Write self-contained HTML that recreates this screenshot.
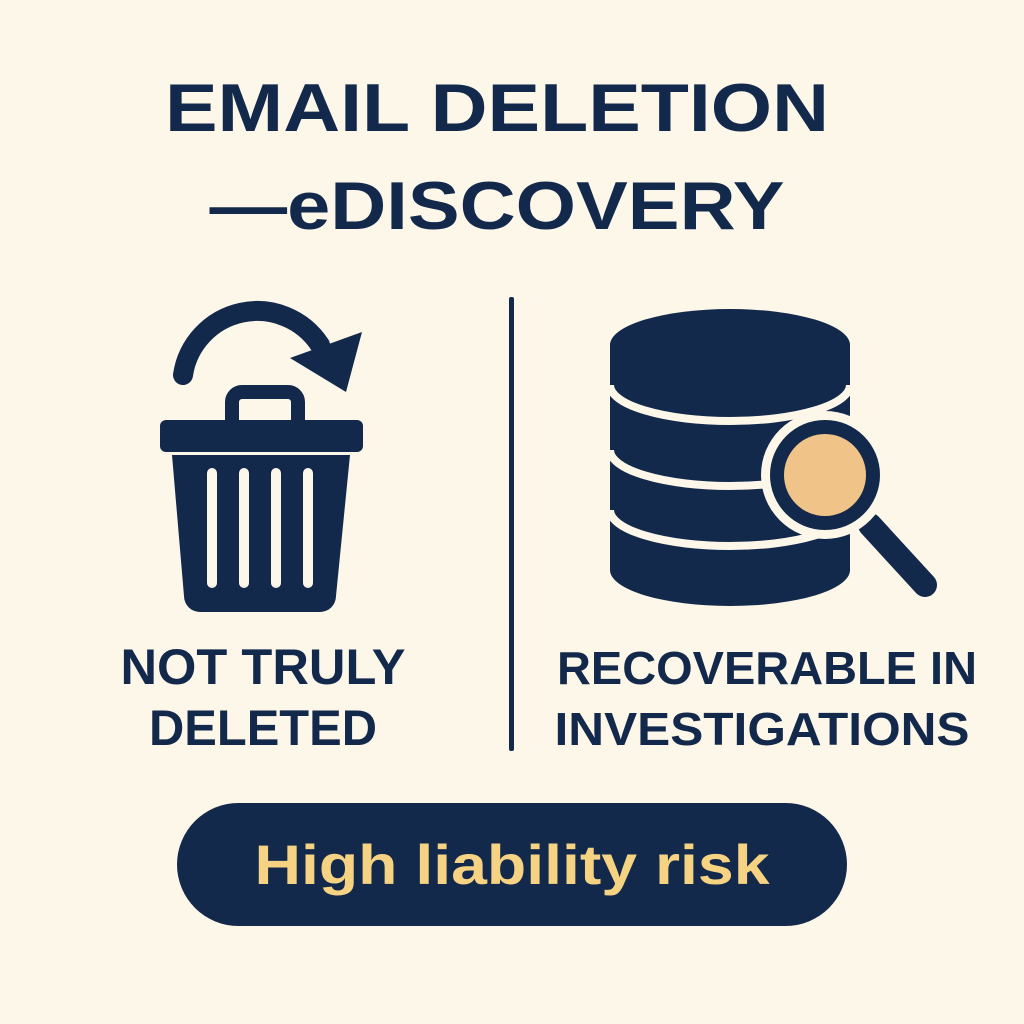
<!DOCTYPE html>
<html><head><meta charset="utf-8"><style>
html,body{margin:0;padding:0;background:#fdf7ea;}
svg{display:block;}
text{font-family:"Liberation Sans",sans-serif;font-weight:bold;}
</style></head><body>
<svg width="1024" height="1024" viewBox="0 0 1024 1024">
<rect width="1024" height="1024" fill="#fdf7ea"/>
<g fill="#13294b">
<text x="497" y="131" font-size="68" text-anchor="middle" textLength="664" lengthAdjust="spacingAndGlyphs">EMAIL DELETION</text>
<text x="497" y="229" font-size="68" text-anchor="middle" textLength="575" lengthAdjust="spacingAndGlyphs">—eDISCOVERY</text>
</g>
<rect x="509" y="297" width="5" height="454" rx="2" fill="#13294b"/>
<g>
<path d="M183 375 A75 75 0 0 1 320 345" fill="none" stroke="#13294b" stroke-width="20" stroke-linecap="round"/>
<polygon points="290,358 362,332 346,392" fill="#13294b"/>
<path d="M232 423 V402 a10 10 0 0 1 10 -10 h46 a10 10 0 0 1 10 10 V423" fill="none" stroke="#13294b" stroke-width="14"/>
<rect x="160" y="420" width="203" height="32" rx="6" fill="#13294b"/>
<path d="M172 455 H350 L336 596 a16 16 0 0 1 -16 16 H200 a16 16 0 0 1 -16 -16 Z" fill="#13294b"/>
<g fill="#fdf7ea">
<rect x="207" y="468" width="10" height="120" rx="5"/>
<rect x="239" y="468" width="10" height="120" rx="5"/>
<rect x="271" y="468" width="10" height="120" rx="5"/>
<rect x="303" y="468" width="10" height="120" rx="5"/>
</g>
</g>
<g fill="#13294b" font-size="50" text-anchor="middle">
<text x="263" y="684" textLength="285" lengthAdjust="spacingAndGlyphs">NOT TRULY</text>
<text x="263" y="745" textLength="228" lengthAdjust="spacingAndGlyphs">DELETED</text>
</g>
<g>
<path d="M610 345 A120 36 0 0 1 850 345 V570 A120 36 0 0 1 610 570 Z" fill="#13294b"/>
<path d="M610 385 A120 36 0 0 0 850 385" fill="none" stroke="#fdf7ea" stroke-width="8"/>
<path d="M610 450 A120 36 0 0 0 850 450" fill="none" stroke="#fdf7ea" stroke-width="8"/>
<path d="M610 510 A120 36 0 0 0 850 510" fill="none" stroke="#fdf7ea" stroke-width="8"/>
</g>
<g>
<line x1="870" y1="525" x2="925" y2="585" stroke="#fdf7ea" stroke-width="36" stroke-linecap="round"/>
<line x1="870" y1="525" x2="925" y2="585" stroke="#13294b" stroke-width="24" stroke-linecap="round"/>
<circle cx="825" cy="475" r="64" fill="#fdf7ea"/>
<circle cx="825" cy="475" r="55" fill="#13294b"/>
<circle cx="825" cy="475" r="41" fill="#f0c488"/>
</g>
<g fill="#13294b" font-size="46" text-anchor="middle">
<text x="767" y="684" textLength="420" lengthAdjust="spacingAndGlyphs">RECOVERABLE IN</text>
<text x="762" y="745" textLength="415" lengthAdjust="spacingAndGlyphs">INVESTIGATIONS</text>
</g>
<g>
<rect x="177" y="803" width="670" height="123" rx="61.5" fill="#13294b"/>
<text x="512" y="884" font-size="56" fill="#f6d383" text-anchor="middle" textLength="515" lengthAdjust="spacingAndGlyphs">High liability risk</text>
</g>
</svg>
</body></html>
